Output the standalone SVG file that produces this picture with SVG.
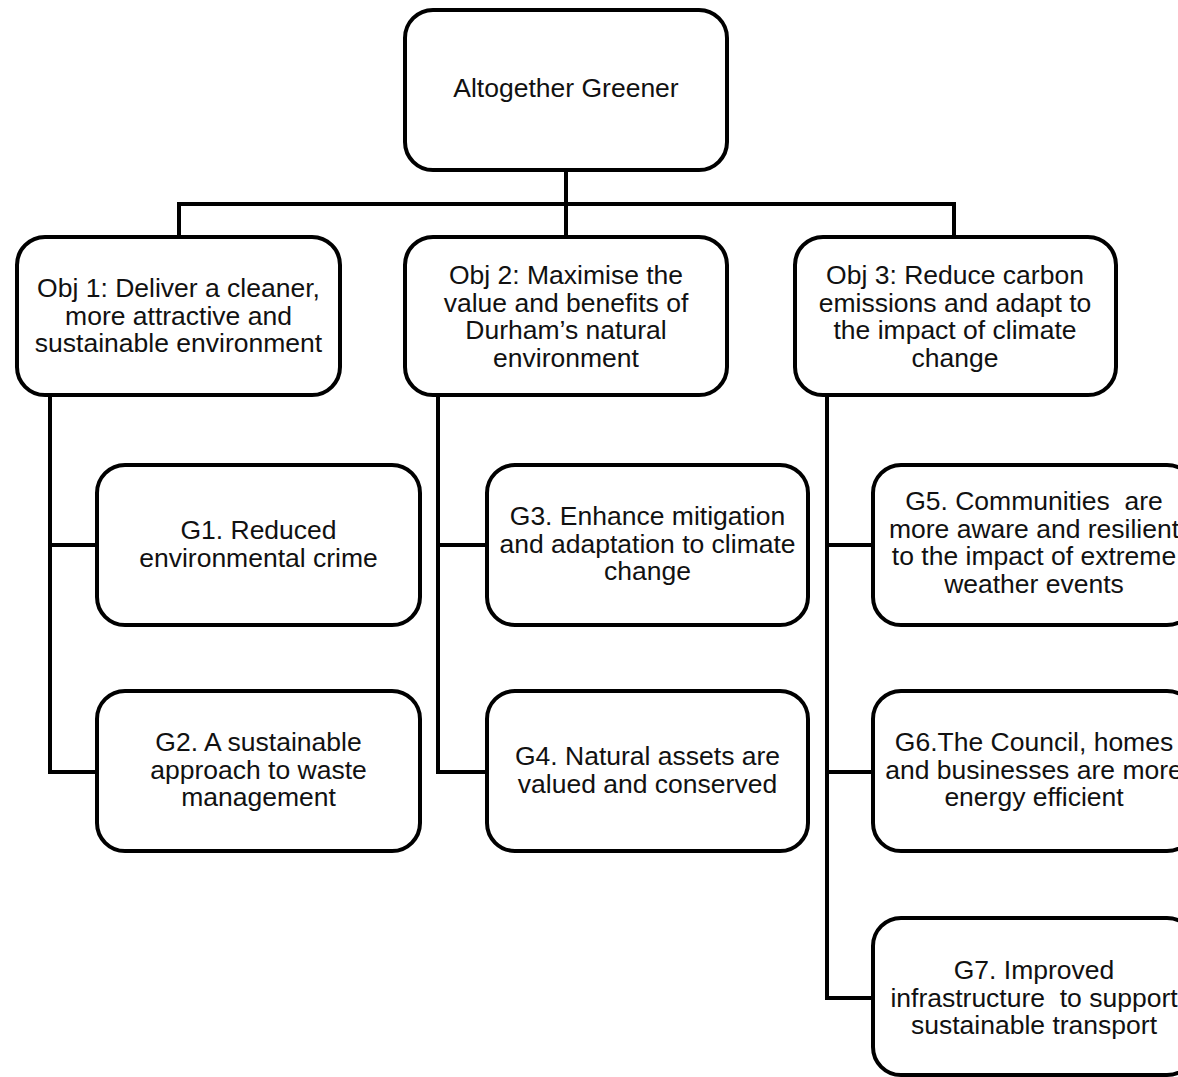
<svg xmlns="http://www.w3.org/2000/svg" width="1178" height="1077" viewBox="0 0 1178 1077">
<style>
.box{fill:#fff;stroke:#000;stroke-width:4}
.c{fill:none;stroke:#000;stroke-width:4;stroke-linejoin:miter}
text{font-family:"Liberation Sans",Arial,sans-serif;font-size:26.5px;fill:#111;text-anchor:middle;white-space:pre}
</style>
<rect width="1178" height="1077" fill="#fff"/>
<g id="connectors">
<path class="c" d="M566 170V237M179 204H954M179 202V237M954 202V237"/>
<path class="c" d="M50 395V772H97M50 545H97"/>
<path class="c" d="M438 395V772H487M438 545H487"/>
<path class="c" d="M827 395V998H873M827 545H873M827 772H873"/>
</g>
<g id="root"><rect class="box" x="405" y="10" width="322" height="160" rx="28"/>
<text x="566" y="97">Altogether Greener</text></g>
<g id="obj1"><rect class="box" x="17" y="237" width="323" height="158" rx="28"/>
<text x="178.5" y="297">Obj 1: Deliver a cleaner,</text><text x="178.5" y="324.5">more attractive and</text><text x="178.5" y="352">sustainable environment</text></g>
<g id="obj2"><rect class="box" x="405" y="237" width="322" height="158" rx="28"/>
<text x="566" y="284">Obj 2: Maximise the</text><text x="566" y="311.5">value and benefits of</text><text x="566" y="339">Durham’s natural</text><text x="566" y="366.5">environment</text></g>
<g id="obj3"><rect class="box" x="795" y="237" width="321" height="158" rx="28"/>
<text x="955" y="284">Obj 3: Reduce carbon</text><text x="955" y="311.5">emissions and adapt to</text><text x="955" y="339">the impact of climate</text><text x="955" y="366.5">change</text></g>
<g id="g1"><rect class="box" x="97" y="465" width="323" height="160" rx="28"/>
<text x="258.5" y="539">G1. Reduced</text><text x="258.5" y="566.5">environmental crime</text></g>
<g id="g2"><rect class="box" x="97" y="691" width="323" height="160" rx="28"/>
<text x="258.5" y="751">G2. A sustainable</text><text x="258.5" y="778.5">approach to waste</text><text x="258.5" y="806">management</text></g>
<g id="g3"><rect class="box" x="487" y="465" width="321" height="160" rx="28"/>
<text x="647.5" y="525">G3. Enhance mitigation</text><text x="647.5" y="552.5">and adaptation to climate</text><text x="647.5" y="580">change</text></g>
<g id="g4"><rect class="box" x="487" y="691" width="321" height="160" rx="28"/>
<text x="647.5" y="765">G4. Natural assets are</text><text x="647.5" y="792.5">valued and conserved</text></g>
<g id="g5"><rect class="box" x="873" y="465" width="322" height="160" rx="28"/>
<text x="1034" y="510">G5. Communities  are</text><text x="1034" y="537.5">more aware and resilient</text><text x="1034" y="565">to the impact of extreme</text><text x="1034" y="592.5">weather events</text></g>
<g id="g6"><rect class="box" x="873" y="691" width="322" height="160" rx="28"/>
<text x="1034" y="751">G6.The Council, homes</text><text x="1034" y="778.5">and businesses are more</text><text x="1034" y="806">energy efficient</text></g>
<g id="g7"><rect class="box" x="873" y="918" width="322" height="157" rx="28"/>
<text x="1034" y="979">G7. Improved</text><text x="1034" y="1006.5">infrastructure  to support</text><text x="1034" y="1034">sustainable transport</text></g>
</svg>
